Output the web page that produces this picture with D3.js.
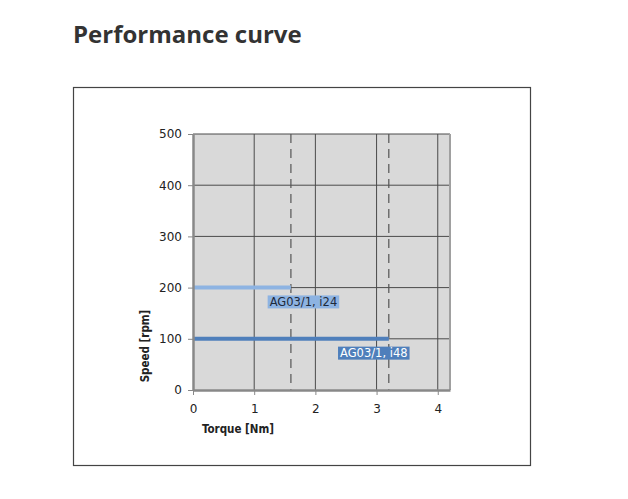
<!DOCTYPE html>
<html lang="en">
  <head>
    <meta charset="utf-8">
    <title>Performance curve</title>
    <script type="text/javascript" src="https://cdn.jsdelivr.net/npm/d3@7/dist/d3.min.js"></script>
    <style type="text/css">
      body { margin: 0; background: #fff; }
      .tick text { font-family: "DejaVu Sans"; font-size: 12px; fill: #222; }
      .axis-title { font-family: "DejaVu Sans Condensed", "DejaVu Sans"; font-weight: bold; font-size: 11.5px; fill: #222; }
      .lbl { font-family: "DejaVu Sans"; font-size: 11.5px; }
    </style>
  </head>
  <body>
  <script type="text/javascript">

    // chart data
    const seriesNames = ["AG03/1, i24", "AG03/1, i48"];
    const seriesSpeed = [200, 100];        // rpm
    const seriesMaxTorque = [1.6, 3.2];    // Nm
    const seriesColors = ["#8db3e2", "#4f7fbb"];
    const labelColors = ["#1e2a3a", "#ffffff"];
    const labelAnchor = [[1.22, 172], [2.37, 72]];   // left edge / centre of each tag, in data units
    const xTicks = [0, 1, 2, 3, 4];
    const yTicks = [0, 100, 200, 300, 400, 500];

    const w = 628;
    const h = 499;
    const plot = {left: 193, right: 450, top: 134, bottom: 390};

    const svg = d3.select("body")
                  .append("svg")
                  .attr("width", w)
                  .attr("height", h);

    svg.append("text")
       .attr("x", 73)
       .attr("y", 43)
       .style("font-family", "'Open Sans'")
       .style("font-weight", "bold")
       .style("font-size", "24px")
       .attr("fill", "#333")
       .text("Performance curve");

    svg.append("rect")
       .attr("x", 73.5)
       .attr("y", 87.5)
       .attr("width", 457)
       .attr("height", 378)
       .attr("fill", "none")
       .attr("stroke", "#444")
       .attr("stroke-width", 1.2);

    const xScale = d3.scaleLinear()
                     .domain([0, 4.2])
                     .range([plot.left, plot.right]);

    const yScale = d3.scaleLinear()
                     .domain([0, 500])
                     .range([plot.bottom, plot.top]);

    // plot background
    svg.append("rect")
       .attr("x", plot.left)
       .attr("y", plot.top)
       .attr("width", plot.right - plot.left)
       .attr("height", plot.bottom - plot.top)
       .attr("fill", "#d9d9d9");

    // grid
    svg.selectAll("line.hgrid")
       .data(yTicks.slice(1))
       .enter()
       .append("line")
       .attr("x1", plot.left)
       .attr("x2", plot.right)
       .attr("y1", d => yScale(d))
       .attr("y2", d => yScale(d))
       .attr("stroke", "#4a4a4a")
       .attr("stroke-width", 1);

    svg.selectAll("line.vgrid")
       .data(xTicks.slice(1))
       .enter()
       .append("line")
       .attr("x1", d => xScale(d))
       .attr("x2", d => xScale(d))
       .attr("y1", plot.top)
       .attr("y2", plot.bottom)
       .attr("stroke", "#4a4a4a")
       .attr("stroke-width", 1);

    // right border
    svg.append("line")
       .attr("x1", plot.right)
       .attr("x2", plot.right)
       .attr("y1", plot.top)
       .attr("y2", plot.bottom)
       .attr("stroke", "#a0a0a0")
       .attr("stroke-width", 2);

    // max torque markers
    svg.selectAll("line.limit")
       .data(seriesMaxTorque)
       .enter()
       .append("line")
       .attr("x1", d => xScale(d))
       .attr("x2", d => xScale(d))
       .attr("y1", plot.top)
       .attr("y2", plot.bottom)
       .attr("stroke", "#555")
       .attr("stroke-width", 1.2)
       .attr("stroke-dasharray", "9,6");

    // speed lines
    svg.selectAll("line.series")
       .data(seriesSpeed)
       .enter()
       .append("line")
       .attr("x1", xScale(0))
       .attr("x2", (d, i) => xScale(seriesMaxTorque[i]))
       .attr("y1", d => yScale(d))
       .attr("y2", d => yScale(d))
       .attr("stroke", (d, i) => seriesColors[i])
       .attr("stroke-width", 4);

    // tags
    const tags = svg.selectAll("g.tag")
                    .data(seriesNames)
                    .enter()
                    .append("g")
                    .attr("transform", (d, i) => "translate(" + xScale(labelAnchor[i][0]) + "," + yScale(labelAnchor[i][1]) + ")");

    tags.append("text")
        .attr("class", "lbl")
        .attr("x", 2)
        .attr("dy", "0.37em")
        .attr("fill", (d, i) => labelColors[i])
        .text(d => d);

    tags.each(function(d, i) {
      const g = d3.select(this);
      const bb = g.select("text").node().getBBox();
      g.insert("rect", "text")
       .attr("x", 0)
       .attr("y", -6.5)
       .attr("width", bb.width + 4)
       .attr("height", 13)
       .attr("fill", seriesColors[i]);
    });

    // axes
    const yAxis = d3.axisLeft(yScale)
                    .tickValues(yTicks)
                    .tickFormat(d3.format("d"))
                    .tickSize(5)
                    .tickPadding(6)
                    .tickSizeOuter(0);

    const xAxis = d3.axisBottom(xScale)
                    .tickValues(xTicks)
                    .tickFormat(d3.format("d"))
                    .tickSize(5)
                    .tickPadding(9)
                    .tickSizeOuter(0);

    const gy = svg.append("g")
                  .attr("transform", "translate(" + plot.left + ",0)")
                  .call(yAxis);

    const gx = svg.append("g")
                  .attr("transform", "translate(0," + plot.bottom + ")")
                  .call(xAxis);

    [gx, gy].forEach(g => {
      g.select(".domain").attr("stroke", "#888").attr("stroke-width", 2.5);
      g.selectAll(".tick line").attr("stroke", "#888").attr("stroke-width", 1);
    });

    svg.append("text")
       .attr("class", "axis-title")
       .attr("x", 238)
       .attr("y", 433)
       .attr("text-anchor", "middle")
       .text("Torque [Nm]");

    svg.append("text")
       .attr("class", "axis-title")
       .attr("transform", "translate(149,346) rotate(-90)")
       .attr("text-anchor", "middle")
       .text("Speed [rpm]");

  </script>
  </body>
</html>
